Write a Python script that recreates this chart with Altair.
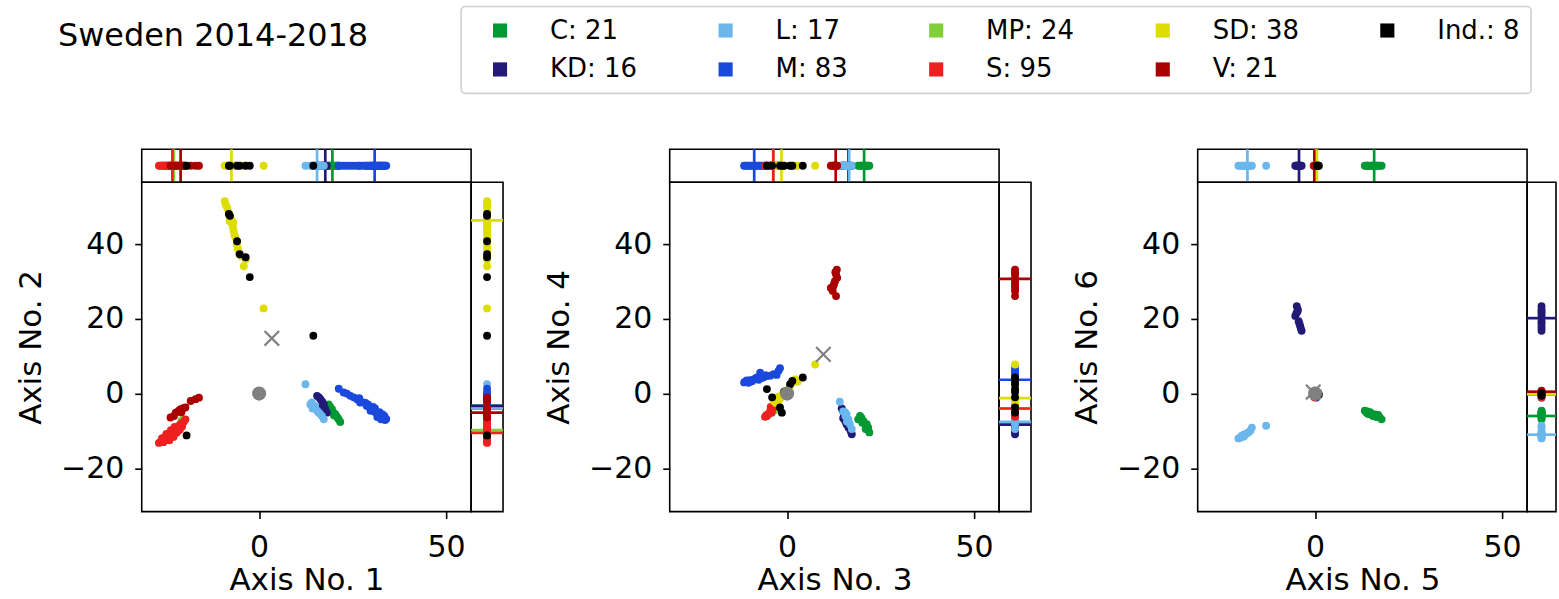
import altair as alt
import pandas as pd

TITLE = "Sweden 2014-2018"
PARTIES = ["C", "KD", "L", "M", "MP", "S", "SD", "V", "Ind."]
SEATS = [21, 16, 17, 83, 24, 95, 38, 21, 8]
COLORS = ["#009933", "#231977", "#6BB7EC", "#1B49DD", "#83CF39",
          "#EE2020", "#DDDD00", "#AA0000", "#000000"]
RULE_ORDER = ["M", "C", "KD", "L", "MP", "S", "V", "SD"]
AXIS_TITLES = ["Axis No. 1", "Axis No. 2", "Axis No. 3",
               "Axis No. 4", "Axis No. 5", "Axis No. 6"]
X_TICKS = [0, 50]
Y_TICKS = [-20, 0, 20, 40]
X_DOMAIN = [-31.4, 56.7]
Y_DOMAIN = [-31.6, 56.6]

# ---- panel 1: axis 1 (x) / axis 2 (y)
P1_X = {
    "C": [18.6, 19.0, 19.5, 19.9, 20.4, 20.8, 21.3, 21.7, 19.2, 20.0, 18.9, 21.0],
    "KD": [15.5, 16.0, 16.4, 16.9, 17.3, 17.7, 16.8, 18.1, 17.0],
    "L": [12.4, 13.7, 14.1, 14.6, 15.0, 15.5, 16.2, 16.8, 17.3, 14.3, 15.8],
    "M": [21.3, 22.6, 23.5, 24.4, 25.3, 26.2, 27.0, 27.9, 28.8, 29.7, 30.2, 30.6,
          31.1, 31.5, 32.0, 32.4, 32.8, 33.3, 33.7, 34.0, 30.0, 31.8, 29.2, 32.6,
          31.0, 32.2, 33.0, 28.5, 30.5, 33.5, 26.8, 29.8, 31.6],
    "MP": [-25.0, -24.0, -23.0, -22.5, -21.8, -20.8, -20.3, -22.0],
    "S": [-26.8, -26.3, -25.9, -25.4, -25.0, -24.5, -24.1, -23.6, -23.2, -22.8,
          -22.3, -21.9, -21.4, -21.0, -20.5, -20.1, -19.7, -25.6, -24.6, -23.4,
          -22.4, -21.5, -24.0, -22.9, -25.5, -24.2, -23.0, -21.2, -20.6, -22.0,
          -26.0, -24.8, -23.6, -22.6],
    "SD": [-9.2, -8.9, -8.5, -8.1, -7.7, -7.4, -7.2, -7.0, -6.8, -6.6, -6.3, -6.0,
           -5.7, -5.4, -4.8, -3.6, -4.1, 1.2, -7.9, -6.9],
    "V": [-23.7, -22.8, -22.3, -21.5, -21.0, -20.3, -19.7, -18.3, -17.0, -16.1, -20.8],
    "Ind.": [-8.1, -7.8, -5.9, -5.2, -2.5, 14.5, -19.4, -3.6],
}
P1_Y = {
    "C": [-2.9, -3.7, -4.2, -5.1, -5.5, -6.2, -6.9, -7.6, -4.5, -5.8, -3.4, -6.5],
    "KD": [-0.6, -1.0, -1.5, -2.2, -2.9, -4.2, -3.7, -5.1, -3.0],
    "L": [2.5, -2.9, -2.4, -3.7, -3.3, -4.6, -5.3, -6.0, -6.9, -4.0, -5.0],
    "M": [1.3, 0.3, 0.0, -0.6, -1.0, -1.5, -2.4, -2.4, -3.3, -3.7, -4.4, -4.6,
          -5.0, -5.1, -5.6, -6.0, -6.2, -6.6, -7.1, -6.8, -4.0, -5.9, -3.0, -6.9,
          -4.0, -5.0, -5.6, -2.5, -3.6, -6.0, -1.2, -4.6, -6.3],
    "MP": [-12.0, -11.0, -10.2, -9.6, -8.8, -7.2, -6.9, -9.9],
    "S": [-13.2, -12.9, -12.6, -12.2, -11.9, -11.5, -11.0, -10.6, -10.3, -9.9,
          -9.4, -9.0, -8.6, -8.2, -7.8, -7.5, -6.9, -13.0, -12.3, -11.4,
          -10.6, -9.8, -12.5, -11.6, -11.8, -12.2, -11.2, -9.6, -8.8, -10.4,
          -12.0, -10.8, -9.8, -8.9],
    "SD": [51.5, 50.5, 49.7, 48.5, 47.1, 46.5, 45.3, 44.5, 43.5, 42.5, 41.7, 39.9,
           38.8, 37.7, 36.8, 35.9, 34.1, 22.8, 46.2, 45.8],
    "V": [-6.4, -6.0, -5.1, -4.6, -4.2, -3.9, -3.7, -2.0, -1.5, -1.1, -5.0],
    "Ind.": [48.1, 47.6, 40.8, 37.3, 31.2, 15.5, -11.2, 36.5],
}
C1_X = {"M": 30.9, "C": 19.6, "KD": 17.7, "L": 15.5, "MP": -22.8, "S": -23.2, "V": -21.0, "SD": -7.4}
C1_Y = {"M": -4.0, "C": -3.3, "KD": -3.3, "L": -4.0, "MP": -9.8, "S": -10.5, "V": -5.1, "SD": 46.4}

# ---- panel 2: axis 3 (x) / axis 4 (y)
P2_X = {
    "C": [19.0, 19.5, 19.9, 20.4, 20.8, 21.3, 21.7, 22.0, 20.1, 21.0],
    "KD": [14.6, 14.9, 15.2, 15.5, 15.9, 16.4, 17.0, 17.3, 15.0],
    "L": [14.1, 15.0, 15.5, 15.9, 16.4, 16.8, 17.3, 16.0, 15.6],
    "M": [-11.5, -11.2, -10.8, -10.3, -9.9, -9.4, -8.9, -8.5, -8.1, -7.6, -7.2,
          -6.7, -6.3, -5.8, -5.4, -4.5, -3.6, -2.8, -2.3, -1.9],
    "MP": [-2.8, -2.4, -3.2, -2.6, -2.0, -3.0],
    "S": [-5.9, -5.4, -5.0, -4.5, -4.1, -3.6, -3.2, -2.8, -5.6, -4.8, -4.2, -3.0, -3.8, -4.4],
    "SD": [-3.6, -3.2, -2.8, -2.4, -2.0, -1.5, -1.0, -0.5, -3.0, -1.8, 1.5, 2.2,
           2.8, 7.5, 0.8, -2.2],
    "V": [13.3, 13.1, 12.8, 12.4, 11.7, 12.2, 13.1, 13.4, 12.9, 12.6],
    "Ind.": [-5.4, -4.0, -1.9, -1.4, 0.8, 1.4, 4.2, -0.8],
}
P2_Y = {
    "C": [-6.9, -6.0, -6.5, -7.3, -8.0, -8.2, -9.1, -10.4, -7.8, -9.5],
    "KD": [-4.0, -4.6, -6.0, -7.3, -8.2, -9.1, -10.0, -10.9, -6.6],
    "L": [-2.2, -4.8, -5.0, -5.5, -6.9, -8.2, -9.5, -7.5, -6.0],
    "M": [3.0, 3.2, 3.5, 2.9, 3.6, 3.3, 3.8, 4.0, 4.3, 3.7, 5.6, 4.2, 4.4, 4.9,
          4.7, 4.8, 5.2, 5.0, 6.1, 6.8],
    "MP": [-3.7, -2.0, -4.4, -3.0, -1.2, -4.0],
    "S": [-6.2, -6.0, -5.5, -4.6, -5.1, -3.3, -2.4, -2.0, -5.8, -5.3, -4.2, -2.8, -4.0, -3.6],
    "SD": [-2.0, -1.5, -1.0, -0.8, -1.5, -0.5, 0.2, 0.8, -2.5, -1.2, 3.0, 3.8,
           3.2, 7.8, 2.0, -1.8],
    "V": [33.2, 31.9, 30.1, 28.8, 28.3, 27.5, 26.1, 31.0, 32.5, 29.5],
    "Ind.": [1.2, -1.0, -3.7, -5.1, 2.5, 3.4, 4.3, 0.5],
}
C2_X = {"M": -8.8, "C": 20.6, "KD": 16.4, "L": 16.6, "MP": -3.7, "S": -3.7, "V": 13.0, "SD": -1.5}
C2_Y = {"M": 3.7, "C": -8.0, "KD": -8.3, "L": -7.6, "MP": -4.0, "S": -4.0, "V": 30.7, "SD": -1.2}

# ---- panel 3: axis 5 (x) / axis 6 (y)
P3_X = {
    "C": [13.3, 13.8, 14.2, 14.7, 15.1, 15.6, 16.0, 16.5, 16.9, 17.3, 17.8, 14.0, 15.3, 16.4],
    "KD": [-4.9, -4.6, -5.3, -5.0, -4.4, -4.2, -4.0, -3.8, -3.6, -4.7],
    "L": [-20.5, -20.0, -19.6, -19.1, -18.7, -18.2, -17.8, -17.3, -16.9, -13.1, -19.0],
    "M": [-0.3, 0.2, 0.5, -0.1, 0.3],
    "MP": [0.1, -0.2, 0.4],
    "S": [-0.4, 0.0, 0.3, -0.2, 0.2],
    "SD": [0.3, 0.6, -0.1, 0.4],
    "V": [0.0, 0.2, -0.2, 0.1],
    "Ind.": [1.0, 0.8, 0.5, 0.9],
}
P3_Y = {
    "C": [-4.6, -5.1, -5.5, -5.0, -5.4, -6.0, -5.6, -5.8, -5.7, -6.4, -6.9, -4.8, -5.9, -6.3],
    "KD": [23.4, 22.5, 20.8, 21.5, 19.4, 18.8, 18.1, 17.4, 16.8, 22.0],
    "L": [-12.0, -11.8, -11.3, -11.0, -10.9, -10.6, -10.4, -9.9, -9.1, -8.6, -11.5],
    "M": [-0.3, 0.4, -0.5, 0.2, -1.1],
    "MP": [0.0, 0.3, -0.3],
    "S": [-0.2, -0.8, 0.3, -1.0, 0.1],
    "SD": [-0.2, 0.0, 0.3, -0.4],
    "V": [0.8, 0.5, 0.6, 0.3],
    "Ind.": [-0.3, 0.2, -0.6, 0.0],
}
C3_X = {"M": 0.1, "C": 15.8, "KD": -4.3, "L": -18.1, "MP": 0.0, "S": -0.1, "V": -0.2, "SD": 0.5}
C3_Y = {"M": -0.2, "C": -6.0, "KD": 20.2, "L": -11.0, "MP": 0.0, "S": -0.1, "V": 0.5, "SD": -0.2}

# grey reference markers per panel
ORIGIN_X = [0.0, 0.0, 0.0]
ORIGIN_Y = [0.0, 0.0, 0.0]
CROSS_X = [3.4, 9.7, -0.5]
CROSS_Y = [14.8, 10.5, 0.4]

FONT = "DejaVu Sans"
GREY = "#808080"
LABEL = {p: f"{p}: {n}" for p, n in zip(PARTIES, SEATS)}

legend = alt.Legend(
    orient="none", legendX=320, legendY=-143, columns=5, title=None,
    symbolType="square", symbolSize=200, symbolStrokeWidth=0, symbolOpacity=1,
    symbolOffset=15, labelOffset=37,
    labelFont=FONT, labelFontSize=26, labelColor="black", labelLimit=0,
    columnPadding=60, rowPadding=13, padding=11, gridAlign="each",
    strokeColor="#d0d0d0", fillColor="white", cornerRadius=4,
)
color_scale = alt.Scale(domain=[LABEL[p] for p in PARTIES], range=COLORS)
color = alt.Color("label:N", scale=color_scale, legend=legend)
DOT = 62


def panel(px, py, cx, cy, k, strip_w):
    rows = []
    for p in PARTIES:
        for x, y in zip(px[p], py[p]):
            rows.append({"label": LABEL[p], "x": x, "y": y})
    pts = pd.DataFrame(rows)
    cen = pd.DataFrame([{"label": LABEL[p], "cx": cx[p], "cy": cy[p]} for p in RULE_ORDER])
    origin = pd.DataFrame({"x": [ORIGIN_X[k]], "y": [ORIGIN_Y[k]]})
    cross = pd.DataFrame({"x": [CROSS_X[k]], "y": [CROSS_Y[k]]})

    xs = alt.Scale(domain=X_DOMAIN, nice=False, zero=False)
    ys = alt.Scale(domain=Y_DOMAIN, nice=False, zero=False)
    xenc = alt.X("x:Q", scale=xs, title=AXIS_TITLES[2 * k],
                 axis=alt.Axis(values=X_TICKS, labelPadding=14, titlePadding=3))
    yenc = alt.Y("y:Q", scale=ys, title=AXIS_TITLES[2 * k + 1],
                 axis=alt.Axis(values=Y_TICKS, labelPadding=11, titlePadding=13))

    main = alt.layer(
        alt.Chart(pts).mark_circle(size=DOT, opacity=1).encode(x=xenc, y=yenc, color=color),
        alt.Chart(cross).mark_point(shape="M-1,-1L1,1M-1,1L1,-1", size=213, filled=False,
                                    strokeWidth=2.2, opacity=1, color=GREY).encode(x=xenc, y=yenc),
        alt.Chart(origin).mark_circle(size=200, opacity=1, color=GREY).encode(x=xenc, y=yenc),
    ).properties(width=330, height=330)

    top = alt.layer(
        alt.Chart(cen).mark_rule(strokeWidth=2.7).encode(
            x=alt.X("cx:Q", scale=xs, axis=None), color=color),
        alt.Chart(pts).mark_circle(size=DOT, opacity=1).encode(
            x=alt.X("x:Q", scale=xs, axis=None), y=alt.value(16.5), color=color),
    ).properties(width=330, height=33)

    right = alt.layer(
        alt.Chart(cen).mark_rule(strokeWidth=2.7).encode(
            y=alt.Y("cy:Q", scale=ys, axis=None), color=color),
        alt.Chart(pts).mark_circle(size=DOT, opacity=1).encode(
            y=alt.Y("y:Q", scale=ys, axis=None), x=alt.value(strip_w / 2), color=color),
    ).properties(width=strip_w, height=330)

    return alt.vconcat(
        top,
        alt.hconcat(main, right, spacing=0, bounds="flush"),
        spacing=0, bounds="flush",
    )


chart = alt.hconcat(
    panel(P1_X, P1_Y, C1_X, C1_Y, 0, 32),
    panel(P2_X, P2_Y, C2_X, C2_Y, 1, 32),
    panel(P3_X, P3_Y, C3_X, C3_Y, 2, 29),
    spacing=36, bounds="full",
).resolve_scale(color="shared").properties(
    title=alt.TitleParams(TITLE, anchor="start", frame="group", font=FONT, fontSize=32,
                          fontWeight="normal", color="black", baseline="alphabetic",
                          dx=-84, offset=-72),
    padding={"left": 14, "top": 5, "right": 0, "bottom": 0},
).configure(font=FONT).configure_view(
    stroke="black", strokeWidth=1.6
).configure_axis(
    labelFont=FONT, labelFontSize=30, labelColor="black",
    titleFont=FONT, titleFontSize=31, titleFontWeight="normal", titleColor="black",
    tickColor="black", tickSize=7, tickWidth=1.6, domain=False, grid=False,
).configure_legend(strokeWidth=1.6)

chart.save("out.html", embed_options={"renderer": "svg", "actions": False})
